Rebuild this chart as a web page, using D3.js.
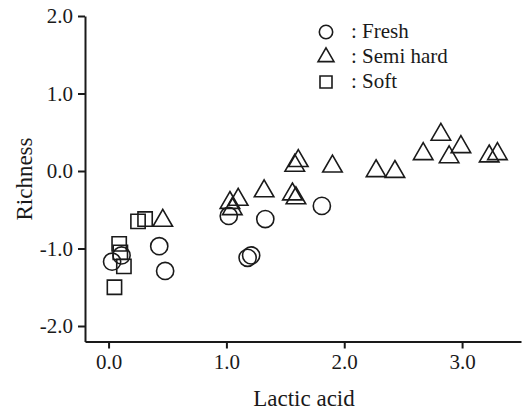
<!DOCTYPE html>
<html>
<head>
<meta charset="utf-8">
<script src="https://cdn.jsdelivr.net/npm/d3@7"></script>
<style>
    body { margin: 0; background: #fff; }
    svg text { font-family: "Liberation Serif", "Times New Roman", "DejaVu Serif", serif !important; fill: #1a1a1a; }
</style>
</head>
<body>
<div id="chart-area"></div>
<script>
// values
const freshX = [0.03, 0.11, 0.43, 0.48, 1.02, 1.18, 1.21, 1.33, 1.81];
const freshY = [-1.17, -1.09, -0.97, -1.29, -0.58, -1.12, -1.09, -0.62, -0.45];

const semiX = [0.46, 1.03, 1.05, 1.10, 1.32, 1.56, 1.59, 1.58, 1.61, 1.90, 2.27, 2.43, 2.67, 2.82, 2.89, 2.99, 3.23, 3.30];
const semiY = [-0.64, -0.41, -0.49, -0.37, -0.26, -0.30, -0.35, 0.07, 0.13, 0.06, 0.00, -0.01, 0.22, 0.47, 0.18, 0.31, 0.19, 0.22];

const softX = [0.05, 0.09, 0.10, 0.13, 0.25, 0.31];
const softY = [-1.50, -0.94, -1.05, -1.23, -0.65, -0.62];

const xTicks = [0, 1, 2, 3];
const yTicks = [-2, -1, 0, 1, 2];
const legendLabels = [': Fresh', ': Semi hard', ': Soft'];

const width = 524;
const height = 412;

const svg = d3.select('#chart-area')
    .append('svg')
    .attr('width', width)
    .attr('height', height);

const x = d3.scaleLinear()
    .domain([-0.2, 3.5])
    .range([85, 521]);

const y = d3.scaleLinear()
    .domain([-2.2, 2.0])
    .range([341.5, 16]);

// plain hyphen for negatives, like the original
const fmt = (d) => d3.format('.1f')(d).replace('\u2212', '-');

const xAxisCall = d3.axisBottom(x)
    .tickValues(xTicks)
    .tickFormat(fmt)
    .tickSizeInner(7)
    .tickSizeOuter(0)
    .tickPadding(6);

const yAxisCall = d3.axisLeft(y)
    .tickValues(yTicks)
    .tickFormat(fmt)
    .tickSizeInner(7)
    .tickSizeOuter(0)
    .tickPadding(5);

const xAxis = svg.append('g')
    .attr('transform', `translate(0, ${y(-2.2)})`)
    .call(xAxisCall);

const yAxis = svg.append('g')
    .attr('transform', `translate(${x(-0.2)}, 0)`)
    .call(yAxisCall);

[xAxis, yAxis].forEach((g) => {
    g.attr('font-family', null);
    g.selectAll('path, line')
        .attr('stroke', '#1a1a1a')
        .attr('stroke-width', 2);
    g.selectAll('text')
        .style('font-size', '21px')
        .attr('fill', '#1a1a1a');
});

// axis titles
svg.append('text')
    .attr('x', 304)
    .attr('y', 406)
    .attr('text-anchor', 'middle')
    .style('font-size', '23px')
    .text('Lactic acid');

svg.append('text')
    .attr('transform', 'translate(32, 179) rotate(-90)')
    .attr('text-anchor', 'middle')
    .style('font-size', '23px')
    .text('Richness');

// markers
const series = [
    { xs: freshX, ys: freshY, type: d3.symbolCircle, size: 232 },
    { xs: semiX, ys: semiY, type: d3.symbolTriangle, size: 165 },
    { xs: softX, ys: softY, type: d3.symbolSquare, size: 204 }
];

series.forEach((s) => {
    svg.append('g')
        .selectAll('path')
        .data(s.xs.map((v, i) => [v, s.ys[i]]))
        .enter()
        .append('path')
        .attr('transform', (d) => `translate(${x(d[0])}, ${y(d[1])})`)
        .attr('d', d3.symbol().type(s.type).size(s.size))
        .attr('fill', 'none')
        .attr('stroke', '#1a1a1a')
        .attr('stroke-width', 1.6);
});

// legend
const legendTypes = [d3.symbolCircle, d3.symbolTriangle, d3.symbolSquare];
const legendSizes = [140, 110, 144];

const legend = svg.append('g')
    .attr('transform', 'translate(326, 32)');

legendLabels.forEach((label, i) => {
    const row = legend.append('g')
        .attr('transform', `translate(0, ${i * 25})`);
    row.append('path')
        .attr('d', d3.symbol().type(legendTypes[i]).size(legendSizes[i]))
        .attr('fill', 'none')
        .attr('stroke', '#1a1a1a')
        .attr('stroke-width', 1.6);
    row.append('text')
        .attr('x', 25)
        .attr('y', 6)
        .style('font-size', '21px')
        .text(label);
});
</script>
</body>
</html>
